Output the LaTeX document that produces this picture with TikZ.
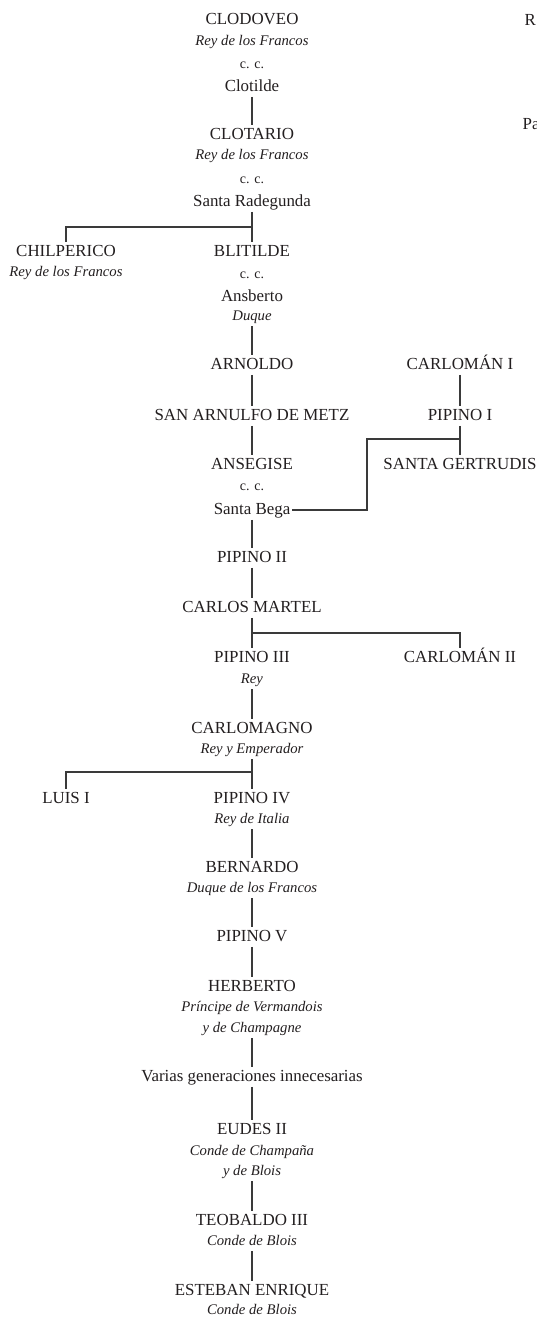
\documentclass[tikz,border=0pt]{standalone}
\usepackage{fontspec}
\setmainfont{Liberation Serif}
\definecolor{txt}{HTML}{231F20}
\definecolor{ln}{HTML}{3A3A3A}
\tikzset{
  pname/.style={font=\fontsize{16.9}{18}\selectfont, text=txt, text height=12pt, text depth=3.5pt, inner xsep=2pt, inner ysep=2pt},
  ptitle/.style={font=\fontsize{14.7}{16}\itshape\selectfont, text=txt, text height=10.5pt, text depth=3.5pt, inner xsep=2pt, inner ysep=2pt},
  pcc/.style={font=\fontsize{14}{15}\selectfont, text=txt, text height=9pt, text depth=2pt, inner sep=1pt},
  conn/.style={draw=ln, line width=1.2pt}
}
\begin{document}
\begin{tikzpicture}[x=1pt,y=-1pt]
\useasboundingbox (0,0) rectangle (537,1318);
\clip (0,0) rectangle (537,1318);
\fill[white] (0,0) rectangle (537,1318);

% main column
\node[pname] (clodoveo) at (252,20) {CLODOVEO};
\node[ptitle] (clodoveoT) at (252,42) {Rey de los Francos};
\node[pcc] (cc1) at (252,65) {c. c.};
\node[pname] (clotilde) at (252,87) {Clotilde};
\node[pname] (clotario) at (252,135) {CLOTARIO};
\node[ptitle] (clotarioT) at (252,156) {Rey de los Francos};
\node[pcc] (cc2) at (252,180) {c. c.};
\node[pname] (radegunda) at (252,202) {Santa Radegunda};
\node[pname] (chilperico) at (66,252) {CHILPERICO};
\node[ptitle] (chilpericoT) at (66,273) {Rey de los Francos};
\node[pname] (blitilde) at (252,252) {BLITILDE};
\node[pcc] (cc3) at (252,275) {c. c.};
\node[pname] (ansberto) at (252,297) {Ansberto};
\node[ptitle] (duque) at (252,317) {Duque};
\node[pname] (arnoldo) at (252,365) {ARNOLDO};
\node[pname] (arnulfo) at (252,416) {SAN ARNULFO DE METZ};
\node[pname] (ansegise) at (252,465) {ANSEGISE};
\node[pcc] (cc4) at (252,487) {c. c.};
\node[pname] (bega) at (252,510) {Santa Bega};
\node[pname] (carloman1) at (460,365) {CARLOMÁN I};
\node[pname] (pipino1) at (460,416) {PIPINO I};
\node[pname] (gertrudis) at (460,465) {SANTA GERTRUDIS};
\node[pname] (pipino2) at (252,558) {PIPINO II};
\node[pname] (martel) at (252,608) {CARLOS MARTEL};
\node[pname] (pipino3) at (252,658) {PIPINO III};
\node[ptitle] (pipino3T) at (252,680) {Rey};
\node[pname] (carloman2) at (460,658) {CARLOMÁN II};
\node[pname] (carlomagno) at (252,729) {CARLOMAGNO};
\node[ptitle] (carlomagnoT) at (252,750) {Rey y Emperador};
\node[pname] (luis) at (66,799) {LUIS I};
\node[pname] (pipino4) at (252,799) {PIPINO IV};
\node[ptitle] (pipino4T) at (252,820) {Rey de Italia};
\node[pname] (bernardo) at (252,868) {BERNARDO};
\node[ptitle] (bernardoT) at (252,889) {Duque de los Francos};
\node[pname] (pipino5) at (252,937) {PIPINO V};
\node[pname] (herberto) at (252,987) {HERBERTO};
\node[ptitle] (herbertoT) at (252,1008) {Príncipe de Vermandois};
\node[ptitle] (herbertoT2) at (252,1029) {y de Champagne};
\node[pname] (varias) at (252,1077) {Varias generaciones innecesarias};
\node[pname] (eudes) at (252,1130) {EUDES II};
\node[ptitle] (eudesT) at (252,1152) {Conde de Champaña};
\node[ptitle] (eudesT2) at (252,1172) {y de Blois};
\node[pname] (teobaldo) at (252,1221) {TEOBALDO III};
\node[ptitle] (teobaldoT) at (252,1242) {Conde de Blois};
\node[pname] (esteban) at (252,1291) {ESTEBAN ENRIQUE};
\node[ptitle] (estebanT) at (252,1311) {Conde de Blois};

% clipped text at the right edge
\node[pname, anchor=west, inner xsep=0pt] (rr) at (524.5,21) {R};
\node[pname, anchor=west, inner xsep=0pt] (pa) at (522.5,125) {Pa};

% junctions
\coordinate (j1) at (252,227);
\coordinate (j2) at (367,439);
\coordinate (j3) at (460,439);
\coordinate (j4) at (252,633);
\coordinate (j5) at (252,772);

% connectors
\draw[conn] (clotilde.south) -- (clotario.north);
\draw[conn] (radegunda.south) -- (blitilde.north);
\draw[conn] (j1) -| (chilperico.north);
\draw[conn] (duque.south) -- (arnoldo.north);
\draw[conn] (arnoldo.south) -- (arnulfo.north);
\draw[conn] (arnulfo.south) -- (ansegise.north);
\draw[conn] (carloman1.south) -- (pipino1.north);
\draw[conn] (pipino1.south) -- (gertrudis.north);
\draw[conn] (bega.east) -| (j2) -- (j3);
\draw[conn] (bega.south) -- (pipino2.north);
\draw[conn] (pipino2.south) -- (martel.north);
\draw[conn] (martel.south) -- (pipino3.north);
\draw[conn] (j4) -| (carloman2.north);
\draw[conn] (pipino3T.south) -- (carlomagno.north);
\draw[conn] (carlomagnoT.south) -- (pipino4.north);
\draw[conn] (j5) -| (luis.north);
\draw[conn] (pipino4T.south) -- (bernardo.north);
\draw[conn] (bernardoT.south) -- (pipino5.north);
\draw[conn] (pipino5.south) -- (herberto.north);
\draw[conn] (herbertoT2.south) -- (varias.north);
\draw[conn] (varias.south) -- (eudes.north);
\draw[conn] (eudesT2.south) -- (teobaldo.north);
\draw[conn] (teobaldoT.south) -- (esteban.north);
\end{tikzpicture}
\end{document}
